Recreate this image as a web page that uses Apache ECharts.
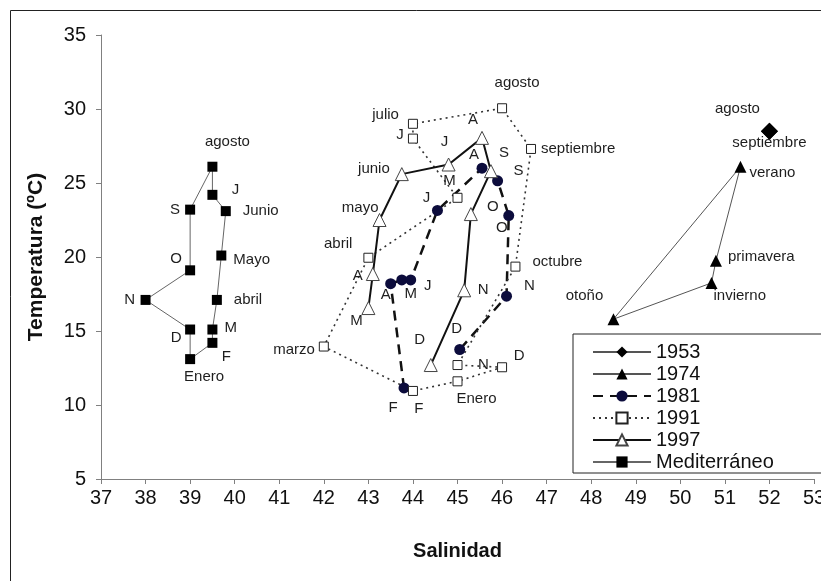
<!DOCTYPE html>
<html>
<head>
<meta charset="utf-8">
<script src="https://cdn.jsdelivr.net/npm/echarts@6/dist/echarts.min.js"></script>
<style>
  html, body { margin: 0; padding: 0; background: #fff; }
  #chart { width: 821px; height: 581px; }
</style>
</head>
<body>
<div id="chart"></div>
<script>
// values (salinidad, temperatura), in drawing order

var sal1953 = [52.0, 52.0];
var temp1953 = [28.5, 28.5];
var lab1953 = ['agosto', 'septiembre'];

var sal1974 = [50.7, 50.8, 51.35, 48.5];
var temp1974 = [18.25, 19.75, 26.1, 15.8];
var lab1974 = ['invierno', 'primavera', 'verano', 'otoño'];

var sal1981 = [43.8, 43.5, 43.75, 43.95, 44.55, 45.55, 45.9, 46.15, 46.1, 45.05];
var temp1981 = [11.15, 18.2, 18.45, 18.45, 23.15, 26.0, 25.15, 22.8, 17.35, 13.75];
var lab1981 = ['F', 'A', 'M', 'J', 'J', 'A', 'S', 'O', 'N', 'D'];

var sal1991 = [45.0, 44.0, 42.0, 43.0, 45.0, 44.0, 44.0, 46.0, 46.65, 46.3, 45.0, 46.0];
var temp1991 = [11.6, 10.95, 13.95, 19.95, 24.0, 28.0, 29.0, 30.05, 27.3, 19.35, 12.7, 12.55];
var lab1991 = ['Enero', 'F', 'marzo', 'abril', 'M', 'J', 'julio', 'agosto', 'septiembre', 'octubre', 'N', 'D'];

var sal1997 = [43.0, 43.1, 43.25, 43.75, 44.8, 45.55, 45.75, 45.3, 45.15, 44.4];
var temp1997 = [16.55, 18.85, 22.5, 25.6, 26.25, 28.05, 25.8, 22.9, 17.75, 12.7];
var lab1997 = ['M', 'A', 'mayo', 'junio', 'J', 'A', 'S', 'O', 'N', 'D'];

var salMed = [39.0, 39.5, 39.5, 39.6, 39.7, 39.8, 39.5, 39.5, 39.0, 39.0, 38.0, 39.0];
var tempMed = [13.1, 14.2, 15.1, 17.1, 20.1, 23.1, 24.2, 26.1, 23.2, 19.1, 17.1, 15.1];
var labMed = ['Enero', 'F', 'M', 'abril', 'Mayo', 'Junio', 'J', 'agosto', 'S', 'O', 'N', 'D'];

// label placement next to each point: [dx, dy, align] in px
var pos1953 = [[-32, -22, 'center'], [0, 12, 'center']];
var pos1974 = [[2, 13, 'left'], [12, -4, 'left'], [9, 6, 'left'], [-29, -23, 'center']];
var pos1981 = [[-11, 20, 'center'], [-5, 11, 'center'], [9, 14, 'center'], [17, 6, 'center'], [-11, -13, 'center'],
  [-8, -13, 'center'], [21, -10, 'center'], [-7, 12, 'center'], [23, -10, 'center'], [-3, -21, 'center']];
var pos1991 = [[19, 18, 'center'], [6, 18, 'center'], [-9, 3, 'right'], [-16, -14, 'right'], [-8, -17, 'center'],
  [-13, -4, 'center'], [-14, -9, 'right'], [15, -25, 'center'], [10, 0, 'left'], [17, -5, 'left'],
  [26, 0, 'center'], [17, -11, 'center']];
var pos1997 = [[-12, 13, 'center'], [-15, 2, 'center'], [-1, -12, 'right'], [-12, -5, 'right'], [-4, -23, 'center'],
  [-9, -18, 'center'], [13, -18, 'center'], [22, -7, 'center'], [19, 0, 'center'], [-11, -25, 'center']];
var posMed = [[14, 18, 'center'], [14, 14, 'center'], [12, -2, 'left'], [17, 0, 'left'], [12, 4, 'left'],
  [17, 0, 'left'], [23, -5, 'center'], [15, -25, 'center'], [-15, 0, 'center'], [-14, -11, 'center'],
  [-16, 0, 'center'], [-14, 8, 'center']];

var FONT = '"Liberation Sans", Arial, sans-serif';

function buildSeries(name, xs, ys, labs, place, closed, opts) {
  var data = [];
  for (var i = 0; i < xs.length; ++i) {
    var p = place[i];
    data.push({
      value: [xs[i], ys[i]],
      label: { show: true, formatter: labs[i], offset: [p[0], p[1]], align: p[2] }
    });
  }
  // loops are closed back to the first month
  if (closed) data.push({ value: [xs[0], ys[0]], symbol: 'none', label: { show: false } });
  var s = {
    type: 'line',
    name: name,
    data: data,
    animation: false,
    label: {
      position: 'inside',
      verticalAlign: 'middle',
      fontSize: 15,
      fontFamily: FONT,
      color: '#1e1e1e'
    },
    emphasis: { disabled: true }
  };
  for (var k in opts) s[k] = opts[k];
  return s;
}

var chart = echarts.init(document.getElementById('chart'), null, { renderer: 'canvas' });

chart.setOption({
  backgroundColor: '#fff',
  animation: false,
  textStyle: { fontFamily: FONT },
  grid: { left: 101, top: 35, right: 7, bottom: 102, containLabel: false, outerBoundsMode: 'none' },
  graphic: [{
    type: 'rect',
    silent: true,
    z: -10,
    shape: { x: 10.5, y: 10.5, width: 900, height: 700 },
    style: { fill: 'none', stroke: '#222', lineWidth: 1 }
  }],
  legend: {
    orient: 'vertical',
    left: 573,
    top: 334,
    padding: [8, 260, 1, 19],
    borderColor: '#222',
    borderWidth: 1,
    backgroundColor: '#fff',
    itemWidth: 58,
    itemHeight: 14,
    itemGap: 2,
    textStyle: { fontSize: 20, color: '#111', fontFamily: FONT, padding: [0, 0, 0, 0] },
    data: ['1953', '1974', '1981', '1991', '1997', 'Mediterráneo']
  },
  xAxis: {
    type: 'value',
    min: 37,
    max: 53,
    interval: 1,
    name: 'Salinidad',
    nameLocation: 'middle',
    nameGap: 62,
    nameTextStyle: { fontSize: 20, fontWeight: 'bold', color: '#111', fontFamily: FONT },
    splitLine: { show: false },
    axisLine: { onZero: false, lineStyle: { color: '#808080', width: 1 } },
    axisTick: { show: true, length: 5, lineStyle: { color: '#808080' } },
    axisLabel: { fontSize: 20, color: '#111', margin: 9, fontFamily: FONT, showMaxLabel: true }
  },
  yAxis: {
    type: 'value',
    min: 5,
    max: 35,
    interval: 5,
    name: 'Temperatura (ºC)',
    nameLocation: 'middle',
    nameGap: 54,
    nameTextStyle: { fontSize: 21, fontWeight: 'bold', color: '#111', fontFamily: FONT },
    splitLine: { show: false },
    axisLine: { show: true, onZero: false, lineStyle: { color: '#808080', width: 1 } },
    axisTick: { show: true, length: 5, lineStyle: { color: '#808080' } },
    axisLabel: { fontSize: 20, color: '#111', margin: 15, fontFamily: FONT }
  },
  series: [
    buildSeries('1953', sal1953, temp1953, lab1953, pos1953, false, {
      symbol: 'diamond', symbolSize: 17,
      itemStyle: { color: '#000' },
      lineStyle: { color: '#555', width: 1 }
    }),
    buildSeries('1974', sal1974, temp1974, lab1974, pos1974, true, {
      symbol: 'triangle', symbolSize: 12,
      itemStyle: { color: '#000' },
      lineStyle: { color: '#555', width: 1 }
    }),
    buildSeries('1981', sal1981, temp1981, lab1981, pos1981, false, {
      symbol: 'circle', symbolSize: 11,
      itemStyle: { color: '#0c0c3c' },
      lineStyle: { color: '#111', width: 2.5, type: [10, 7] }
    }),
    buildSeries('1991', sal1991, temp1991, lab1991, pos1991, true, {
      symbol: 'rect', symbolSize: 9,
      itemStyle: { color: '#fff', borderColor: '#222', borderWidth: 1 },
      lineStyle: { color: '#333', width: 1.6, type: [2, 4] }
    }),
    buildSeries('1997', sal1997, temp1997, lab1997, pos1997, false, {
      symbol: 'triangle', symbolSize: 13,
      itemStyle: { color: '#fff', borderColor: '#444', borderWidth: 1 },
      lineStyle: { color: '#111', width: 2 }
    }),
    buildSeries('Mediterráneo', salMed, tempMed, labMed, posMed, true, {
      symbol: 'rect', symbolSize: 10,
      itemStyle: { color: '#000' },
      lineStyle: { color: '#666', width: 1 }
    })
  ]
});
</script>
</body>
</html>
